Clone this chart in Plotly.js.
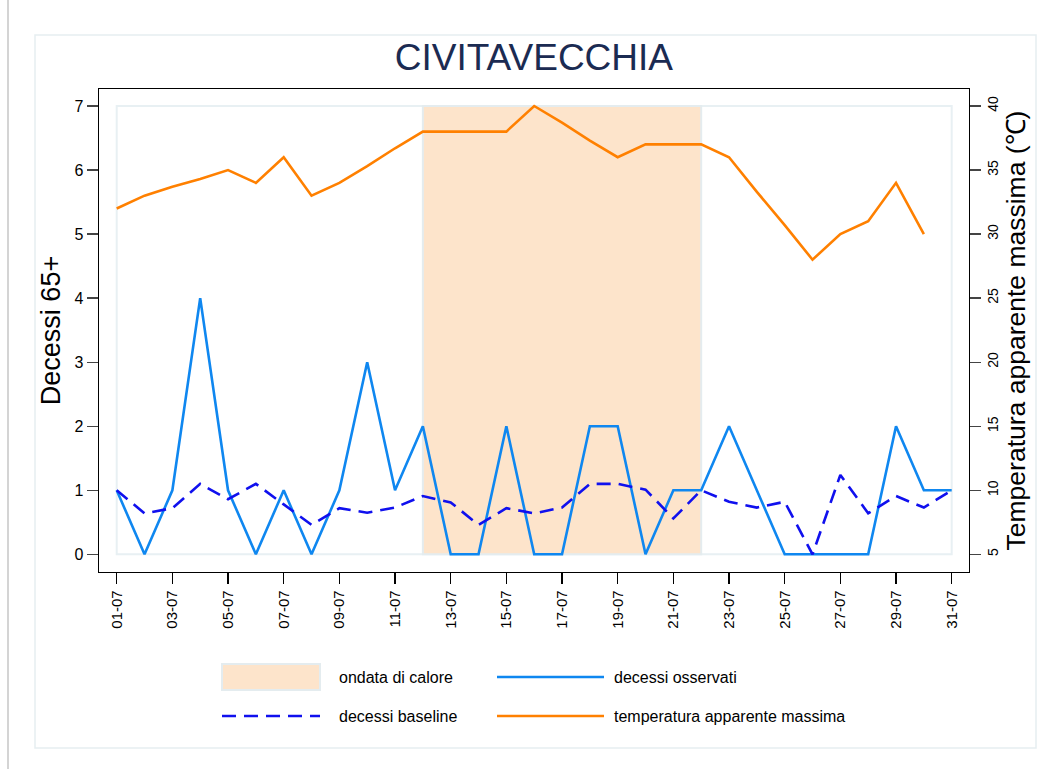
<!DOCTYPE html>
<html><head><meta charset="utf-8">
<script src="https://cdn.plot.ly/plotly-3.0.1.min.js"></script>
<style>html,body{margin:0;padding:0;background:#fff}#chart{width:1051px;height:769px}</style>
</head><body><div id="chart"></div>
<script>
const dates = ['01-07','02-07','03-07','04-07','05-07','06-07','07-07','08-07','09-07','10-07',
  '11-07','12-07','13-07','14-07','15-07','16-07','17-07','18-07','19-07','20-07',
  '21-07','22-07','23-07','24-07','25-07','26-07','27-07','28-07','29-07','30-07','31-07'];
const xTickLabels = ['01-07','03-07','05-07','07-07','09-07','11-07','13-07','15-07',
  '17-07','19-07','21-07','23-07','25-07','27-07','29-07','31-07'];
const observedDeaths = [1,0,1,4,1,0,1,0,1,3,1,2,0,0,2,0,0,2,2,0,1,1,2,1,0,0,0,0,2,1,1];
const baselineDeaths = [1.0,0.64,0.72,1.10,0.86,1.10,0.78,0.46,0.72,0.65,0.73,0.91,0.81,0.46,0.72,
  0.64,0.73,1.10,1.10,1.01,0.56,1.0,0.82,0.73,0.82,0.0,1.24,0.64,0.91,0.73,1.0];
const maxApparentTemp = [32,33,33.7,34.3,35,34,36,33,34,35.3,36.7,38,38,38,38,40,38.7,37.3,36,37,
  37,37,36,33.3,30.7,28,30,31,34,30,null];
const heatwave = ['12-07','22-07'];
const leftTicks = [0,1,2,3,4,5,6,7];
const rightTicks = [5,10,15,20,25,30,35,40];

const PX = x => (x - 99) / 870;
const PY = y => (572 - y) / 483;

const traces = [
  {x: dates, y: observedDeaths, type: 'scatter', mode: 'lines', name: 'decessi osservati',
   line: {color: '#0f87f0', width: 2.6}, yaxis: 'y', showlegend: false},
  {x: dates, y: baselineDeaths, type: 'scatter', mode: 'lines', name: 'decessi baseline',
   line: {color: '#1010ee', width: 2.6, dash: '14px,8px'}, yaxis: 'y', showlegend: false},
  {x: dates, y: maxApparentTemp, type: 'scatter', mode: 'lines', name: 'temperatura apparente massima',
   line: {color: '#ff8000', width: 2.6}, yaxis: 'y2', showlegend: false, connectgaps: false}
];

const shapes = [
  {type: 'line', xref: 'paper', yref: 'paper', x0: PX(8), x1: PX(8), y0: PY(0), y1: PY(769),
   line: {color: '#d4d4d4', width: 2}, layer: 'below'},
  {type: 'rect', xref: 'paper', yref: 'paper', x0: PX(35), x1: PX(1036), y0: PY(35), y1: PY(748),
   line: {color: '#e6eef1', width: 1.5}, layer: 'below'},
  {type: 'rect', xref: 'x', yref: 'y', x0: dates[0], x1: dates[dates.length-1], y0: 0, y1: 7,
   line: {color: '#e8f0f3', width: 2}, layer: 'below'},
  {type: 'rect', xref: 'x', yref: 'y', x0: heatwave[0], x1: heatwave[1], y0: 0, y1: 7,
   fillcolor: '#fde4cb', line: {color: '#e4ecef', width: 2}, layer: 'below'},
  // legend symbols
  {type: 'rect', xref: 'paper', yref: 'paper', x0: PX(222), x1: PX(320), y0: PY(664), y1: PY(690),
   fillcolor: '#fde4cb', line: {color: '#e4ecef', width: 2}},
  {type: 'line', xref: 'paper', yref: 'paper', x0: PX(497), x1: PX(604), y0: PY(677), y1: PY(677),
   line: {color: '#0f87f0', width: 2.6}},
  {type: 'line', xref: 'paper', yref: 'paper', x0: PX(222), x1: PX(320), y0: PY(716), y1: PY(716),
   line: {color: '#1010ee', width: 2.6, dash: '14px,8px'}},
  {type: 'line', xref: 'paper', yref: 'paper', x0: PX(497), x1: PX(604), y0: PY(716), y1: PY(716),
   line: {color: '#ff8000', width: 2.6}}
];

const legFont = {family: 'Liberation Sans, Arial, sans-serif', size: 16, color: '#000'};
const annotations = [
  {text: 'ondata di calore', x: PX(337), y: PY(677)},
  {text: 'decessi osservati', x: PX(612), y: PY(677)},
  {text: 'decessi baseline', x: PX(337), y: PY(716)},
  {text: 'temperatura apparente massima', x: PX(612), y: PY(716)}
].map(a => Object.assign({xref: 'paper', yref: 'paper', xanchor: 'left', yanchor: 'middle',
  showarrow: false, font: legFont}, a));

const layout = {
  width: 1051, height: 769,
  margin: {l: 99, r: 82, t: 89, b: 197},
  paper_bgcolor: '#fff', plot_bgcolor: 'rgba(0,0,0,0)',
  font: {family: 'Liberation Sans, Arial, sans-serif', color: '#000'},
  title: {text: 'CIVITAVECCHIA', xref: 'container', x: 0.508, xanchor: 'center',
    yref: 'container', y: 1 - 57/769, yanchor: 'middle',
    font: {size: 37, color: '#1b2b52', family: 'Liberation Sans, Arial, sans-serif'}},
  xaxis: {type: 'category', categoryorder: 'array', categoryarray: dates,
    range: [-0.636, 30.622], tickmode: 'array', tickvals: xTickLabels, ticktext: xTickLabels,
    tickangle: -90, ticks: 'outside', ticklen: 11, tickwidth: 1.3, tickcolor: '#000',
    showline: true, linecolor: '#000', linewidth: 1.3, mirror: true,
    showgrid: false, zeroline: false, tickfont: {size: 15, color: '#000'}},
  yaxis: {range: [-0.276, 7.265], tickmode: 'array', tickvals: leftTicks,
    ticks: 'outside', ticklen: 11, tickwidth: 1.3, tickcolor: '#444',
    showline: true, linecolor: '#000', linewidth: 1.3,
    showgrid: false, zeroline: false, tickfont: {size: 16, color: '#000'},
    title: {text: 'Decessi 65+', font: {size: 27, color: '#000'}, standoff: 6}},
  yaxis2: {overlaying: 'y', side: 'right', range: [3.618, 41.327], tickmode: 'array', tickvals: rightTicks,
    tickangle: -90, ticks: 'outside', ticklen: 11, tickwidth: 1.3, tickcolor: '#444',
    showline: true, linecolor: '#000', linewidth: 1.3,
    showgrid: false, zeroline: false, tickfont: {size: 14, color: '#000'},
    title: {text: 'Temperatura apparente massima (℃)', font: {size: 26.5, color: '#000'}, standoff: 5}},
  shapes: shapes,
  annotations: annotations,
  showlegend: false
};

Plotly.newPlot('chart', traces, layout, {displayModeBar: false, staticPlot: true});
</script>
</body></html>
